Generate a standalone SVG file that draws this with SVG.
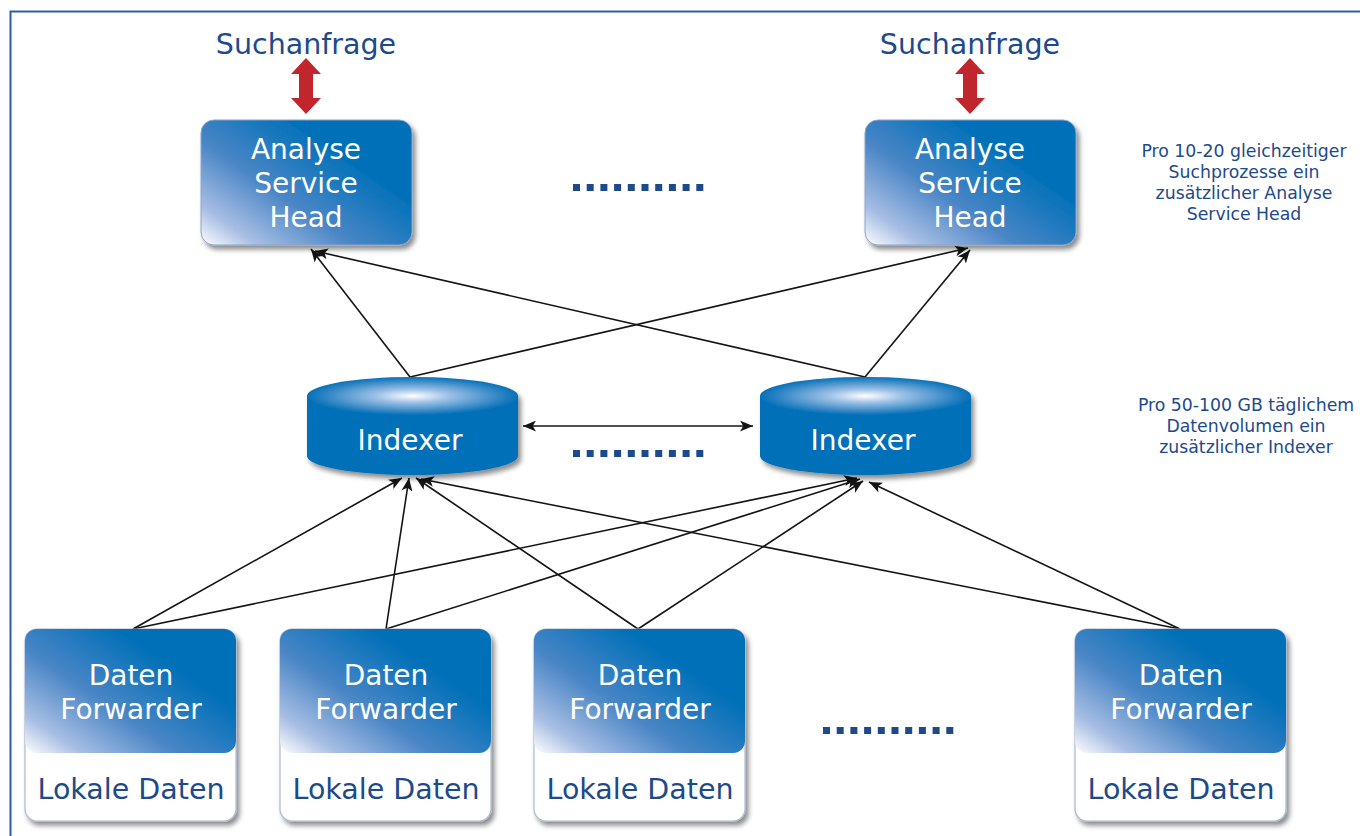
<svg xmlns="http://www.w3.org/2000/svg" width="1360" height="836" viewBox="0 0 1360 836">
  <style>
    .lbl { font-family: "DejaVu Sans", Verdana, sans-serif; fill: #ffffff; font-size: 28px; text-anchor: middle; }
    .dark { font-family: "DejaVu Sans", Verdana, sans-serif; fill: #1d4a8a; text-anchor: middle; }
    .big { font-size: 28.5px; }
    .note { font-size: 17.3px; }
    .conn { stroke: #141414; stroke-width: 1.6; fill: none; marker-end: url(#arr); }
    .dots rect { fill: #1d4a8a; }
    .side { fill: #0670b8; }
  </style>
  <defs>
    <linearGradient id="boxGrad" x1="0" y1="1" x2="0.75" y2="0.35">
      <stop offset="0" stop-color="#ffffff"/>
      <stop offset="0.2" stop-color="#a9bfe4"/>
      <stop offset="0.55" stop-color="#4a86c6"/>
      <stop offset="1" stop-color="#0070b8"/>
    </linearGradient>
    <radialGradient id="capGrad" cx="0.5" cy="0.5" r="0.5">
      <stop offset="0" stop-color="#ffffff"/>
      <stop offset="0.35" stop-color="#9ec0e6"/>
      <stop offset="1" stop-color="#0670b8"/>
    </radialGradient>
    <filter id="shadow" x="-10%" y="-10%" width="125%" height="130%">
      <feDropShadow dx="3" dy="4" stdDeviation="2.5" flood-color="#000000" flood-opacity="0.45"/>
    </filter>
    <marker id="arr" viewBox="0 0 12 10" refX="12" refY="5" markerWidth="13" markerHeight="11" markerUnits="userSpaceOnUse" orient="auto-start-reverse">
      <path d="M0,0 L12,5 L0,10 L3,5 Z" fill="#141414"/>
    </marker>
    <path id="redArrow" d="M0,-28 L15,-12 L7,-12 L7,12 L15,12 L0,28 L-15,12 L-7,12 L-7,-12 L-15,-12 Z" fill="#c0262b"/>
  </defs>

  <rect width="1360" height="836" fill="#ffffff"/>
  <!-- outer frame -->
  <path d="M10.5,836 V11.5 H1360" fill="none" stroke="#2a5ea5" stroke-width="2"/>

  <!-- connectors -->
  <g id="connectors">
    <!-- forwarders to indexers -->
    <line class="conn" x1="133" y1="629" x2="402" y2="478"/>
    <line class="conn" x1="133" y1="629" x2="857" y2="478"/>
    <line class="conn" x1="386" y1="629" x2="409" y2="478"/>
    <line class="conn" x1="386" y1="629" x2="860" y2="479"/>
    <line class="conn" x1="638" y1="629" x2="416" y2="478"/>
    <line class="conn" x1="638" y1="629" x2="863" y2="481"/>
    <line class="conn" x1="1180" y1="629" x2="421" y2="479"/>
    <line class="conn" x1="1180" y1="629" x2="869" y2="482"/>
    <!-- indexers to heads -->
    <line class="conn" x1="410" y1="377" x2="311" y2="249"/>
    <line class="conn" x1="410" y1="377" x2="968" y2="248"/>
    <line class="conn" x1="865" y1="377" x2="315" y2="251"/>
    <line class="conn" x1="865" y1="377" x2="970" y2="250"/>
    <!-- indexer to indexer -->
    <line class="conn" x1="523" y1="426" x2="753" y2="426" marker-start="url(#arr)"/>
  </g>

  <!-- query arrows and labels -->
  <g id="query-left">
    <text class="dark big" x="306" y="54">Suchanfrage</text>
    <use href="#redArrow" x="306" y="86"/>
  </g>
  <g id="query-right">
    <text class="dark big" x="970" y="54">Suchanfrage</text>
    <use href="#redArrow" x="970" y="86"/>
  </g>

  <!-- search heads -->
  <g id="head-1">
    <rect x="201" y="120" width="211" height="125" rx="13" fill="url(#boxGrad)" stroke="#8aa4c8" stroke-width="1" filter="url(#shadow)"/>
    <text class="lbl" x="306" y="159">Analyse</text>
    <text class="lbl" x="306" y="193">Service</text>
    <text class="lbl" x="306" y="227">Head</text>
  </g>
  <g id="head-2">
    <rect x="865" y="120" width="211" height="125" rx="13" fill="url(#boxGrad)" stroke="#8aa4c8" stroke-width="1" filter="url(#shadow)"/>
    <text class="lbl" x="970" y="159">Analyse</text>
    <text class="lbl" x="970" y="193">Service</text>
    <text class="lbl" x="970" y="227">Head</text>
  </g>

  <!-- indexers -->
  <g id="indexer-1">
    <g filter="url(#shadow)">
      <path class="side" d="M307,396 V456 A105.5,19 0 0 0 518,456 V396 Z"/>
      <ellipse cx="412.5" cy="396" rx="105.5" ry="19" fill="url(#capGrad)"/>
    </g>
    <text class="lbl" x="410" y="450">Indexer</text>
  </g>
  <g id="indexer-2">
    <g filter="url(#shadow)">
      <path class="side" d="M760,396 V456 A105.5,19 0 0 0 971,456 V396 Z"/>
      <ellipse cx="865.5" cy="396" rx="105.5" ry="19" fill="url(#capGrad)"/>
    </g>
    <text class="lbl" x="863" y="450">Indexer</text>
  </g>

  <!-- forwarders -->
  <g id="forwarder-1">
    <rect x="25" y="629" width="211" height="192" rx="12" fill="#ffffff" stroke="#a9b9d2" stroke-width="1.2" filter="url(#shadow)"/>
    <rect x="25" y="629" width="211" height="124" rx="12" fill="url(#boxGrad)"/>
    <text class="lbl" x="131" y="685">Daten</text>
    <text class="lbl" x="131" y="719">Forwarder</text>
    <text class="dark big" x="131" y="799">Lokale Daten</text>
  </g>
  <g id="forwarder-2">
    <rect x="280" y="629" width="211" height="192" rx="12" fill="#ffffff" stroke="#a9b9d2" stroke-width="1.2" filter="url(#shadow)"/>
    <rect x="280" y="629" width="211" height="124" rx="12" fill="url(#boxGrad)"/>
    <text class="lbl" x="386" y="685">Daten</text>
    <text class="lbl" x="386" y="719">Forwarder</text>
    <text class="dark big" x="386" y="799">Lokale Daten</text>
  </g>
  <g id="forwarder-3">
    <rect x="534" y="629" width="211" height="192" rx="12" fill="#ffffff" stroke="#a9b9d2" stroke-width="1.2" filter="url(#shadow)"/>
    <rect x="534" y="629" width="211" height="124" rx="12" fill="url(#boxGrad)"/>
    <text class="lbl" x="640" y="685">Daten</text>
    <text class="lbl" x="640" y="719">Forwarder</text>
    <text class="dark big" x="640" y="799">Lokale Daten</text>
  </g>
  <g id="forwarder-4">
    <rect x="1075" y="629" width="211" height="192" rx="12" fill="#ffffff" stroke="#a9b9d2" stroke-width="1.2" filter="url(#shadow)"/>
    <rect x="1075" y="629" width="211" height="124" rx="12" fill="url(#boxGrad)"/>
    <text class="lbl" x="1181" y="685">Daten</text>
    <text class="lbl" x="1181" y="719">Forwarder</text>
    <text class="dark big" x="1181" y="799">Lokale Daten</text>
  </g>

  <!-- ellipsis dots -->
  <g class="dots" id="dots-heads">
    <rect x="573" y="184" width="7" height="7"/><rect x="586.7" y="184" width="7" height="7"/><rect x="600.4" y="184" width="7" height="7"/><rect x="614.1" y="184" width="7" height="7"/><rect x="627.8" y="184" width="7" height="7"/><rect x="641.5" y="184" width="7" height="7"/><rect x="655.2" y="184" width="7" height="7"/><rect x="668.9" y="184" width="7" height="7"/><rect x="682.6" y="184" width="7" height="7"/><rect x="696.3" y="184" width="7" height="7"/>
  </g>
  <g class="dots" id="dots-indexers">
    <rect x="573" y="450" width="7" height="7"/><rect x="586.7" y="450" width="7" height="7"/><rect x="600.4" y="450" width="7" height="7"/><rect x="614.1" y="450" width="7" height="7"/><rect x="627.8" y="450" width="7" height="7"/><rect x="641.5" y="450" width="7" height="7"/><rect x="655.2" y="450" width="7" height="7"/><rect x="668.9" y="450" width="7" height="7"/><rect x="682.6" y="450" width="7" height="7"/><rect x="696.3" y="450" width="7" height="7"/>
  </g>
  <g class="dots" id="dots-forwarders">
    <rect x="823" y="727" width="7" height="7"/><rect x="836.7" y="727" width="7" height="7"/><rect x="850.4" y="727" width="7" height="7"/><rect x="864.1" y="727" width="7" height="7"/><rect x="877.8" y="727" width="7" height="7"/><rect x="891.5" y="727" width="7" height="7"/><rect x="905.2" y="727" width="7" height="7"/><rect x="918.9" y="727" width="7" height="7"/><rect x="932.6" y="727" width="7" height="7"/><rect x="946.3" y="727" width="7" height="7"/>
  </g>

  <!-- scaling notes -->
  <g id="note-heads">
    <text class="dark note" x="1244" y="157">Pro 10-20 gleichzeitiger</text>
    <text class="dark note" x="1244" y="178">Suchprozesse ein</text>
    <text class="dark note" x="1244" y="199">zusätzlicher Analyse</text>
    <text class="dark note" x="1244" y="220">Service Head</text>
  </g>
  <g id="note-indexers">
    <text class="dark note" x="1246" y="411">Pro 50-100 GB täglichem</text>
    <text class="dark note" x="1246" y="432">Datenvolumen ein</text>
    <text class="dark note" x="1246" y="453">zusätzlicher Indexer</text>
  </g>
</svg>
